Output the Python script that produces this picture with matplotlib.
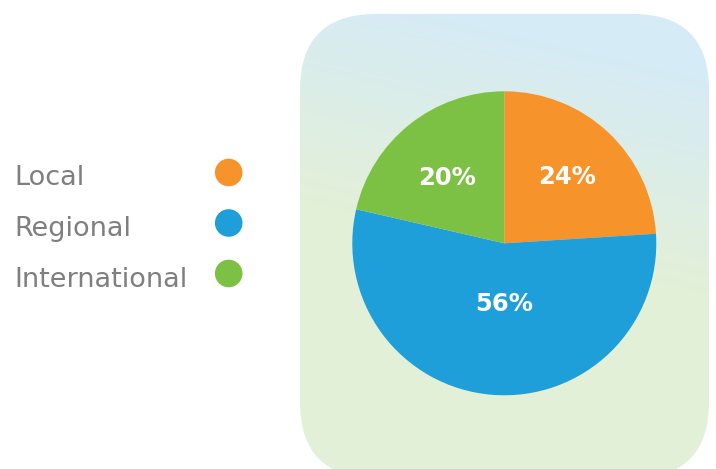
import matplotlib.pyplot as plt
import numpy as np
from matplotlib.patches import FancyBboxPatch, Circle

# data
categories = ['Local', 'Regional', 'International']
shares = [24.0, 54.6, 21.4]          # wedge sizes as drawn
share_labels = ['24%', '56%', '20%']  # printed values
colors = ['#f7932b', '#1f9fd9', '#7cc143']

W, H = 716, 469
fig = plt.figure(figsize=(W / 100, H / 100), dpi=100)
ax = fig.add_axes([0, 0, 1, 1])
ax.set_xlim(0, W)
ax.set_ylim(0, H)
ax.set_aspect('equal')
ax.axis('off')


def Y(y):
    # pixel row (from top) -> axes y
    return H - y


# rounded background panel with diagonal blue -> green gradient
box = FancyBboxPatch((300 + 76, Y(478) + 76), 409 - 152, 464 - 152,
                     boxstyle='round,pad=76', fc='none', ec='none')
ax.add_patch(box)

xs = np.arange(0, W)
ys = np.arange(0, H)
gx, gy = np.meshgrid(xs, ys)  # gy is pixel row from top
s = gx * 0.23 - gy
t = np.clip((s + 130) / 220, 0, 1)[..., None]
blue = np.array([213, 235, 246]) / 255
green = np.array([227, 240, 216]) / 255
img = green * (1 - t) + blue * t
im = ax.imshow(img, extent=(0, W, 0, H), origin='upper', zorder=0)
im.set_clip_path(box)

# pie
cx, cy, r = 504.3, Y(243.3), 152
wedges, _ = ax.pie(shares, colors=colors, startangle=90, counterclock=False,
                   center=(cx, cy), radius=r, wedgeprops=dict(edgecolor='none'))
ax.set_xlim(0, W)
ax.set_ylim(0, H)

label_dist = [0.6, 0.4, 0.57]
label_turn = [0, 4.7, 2.5]
for w, lab, d, dt in zip(wedges, share_labels, label_dist, label_turn):
    ang = np.deg2rad((w.theta1 + w.theta2) / 2 + dt)
    ax.text(cx + d * r * np.cos(ang), cy + d * r * np.sin(ang), lab,
            ha='center', va='center', color='white', fontsize=17.5,
            fontweight='bold', family='DejaVu Sans')

# legend
for i, (name, c) in enumerate(zip(categories, colors)):
    base = 184.5 + 51 * i
    ax.text(14, Y(base), name, ha='left', va='baseline', color='#7f7f7f',
            fontsize=19.5, family='DejaVu Sans')
    ax.add_patch(Circle((228.7, Y(172.5 + 50.5 * i)), 13.8, fc=c, ec='none'))

fig.savefig('out.png', dpi=100)
